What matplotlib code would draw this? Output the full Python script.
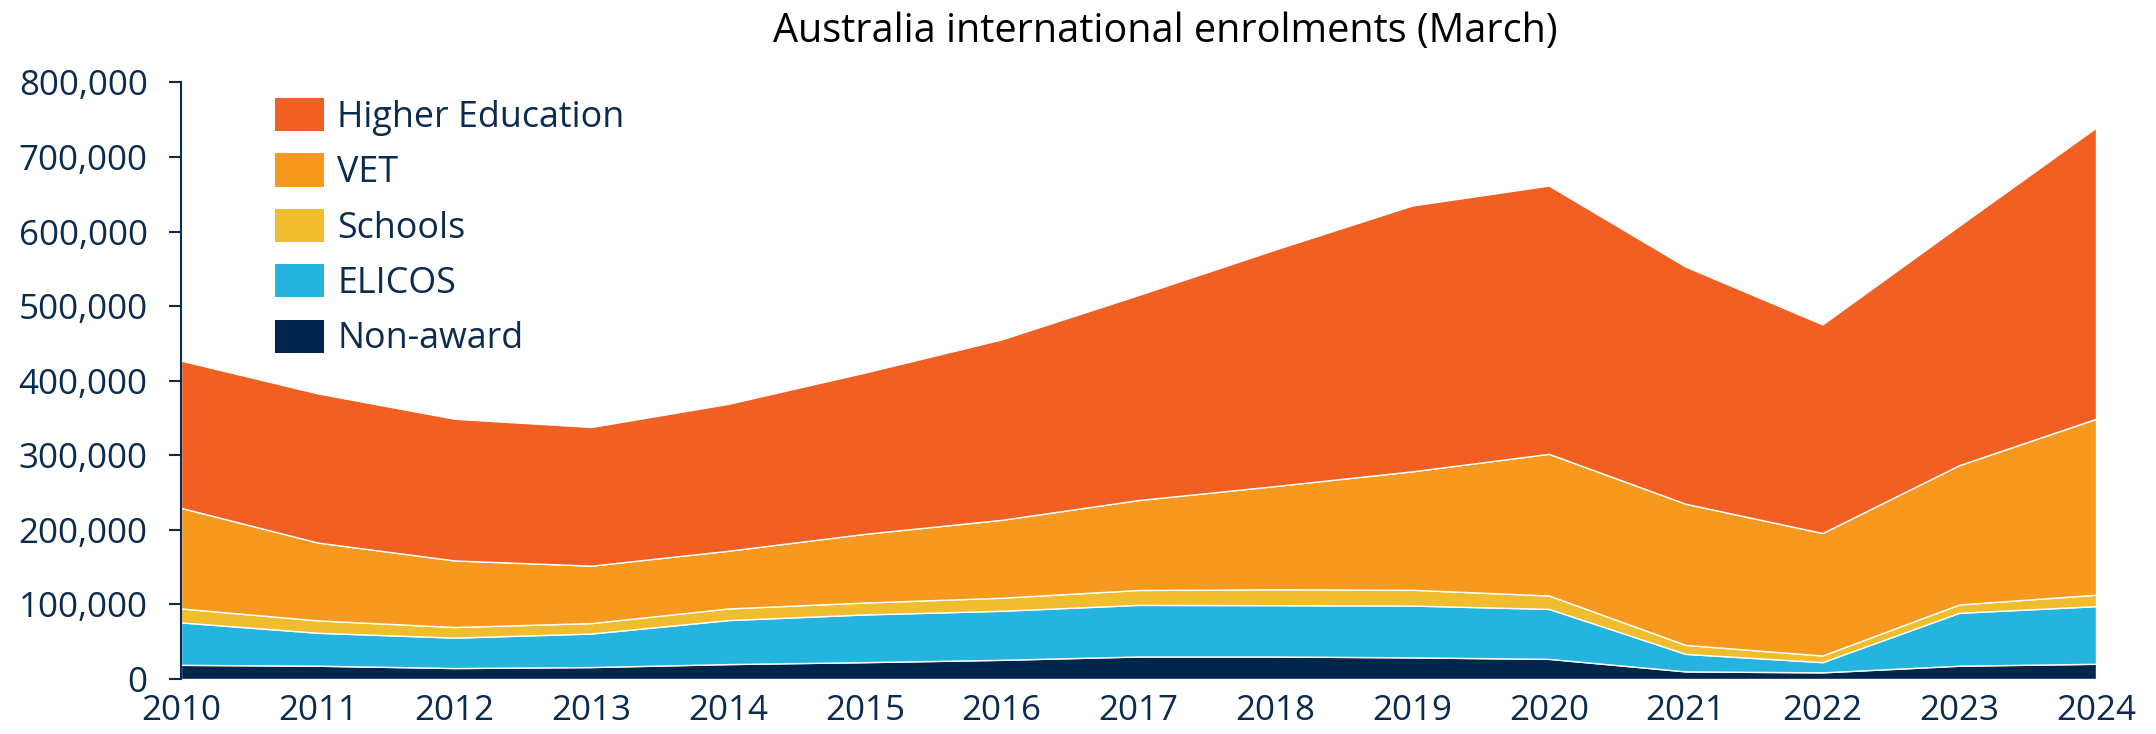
import matplotlib
matplotlib.use("Agg")
import matplotlib.pyplot as plt
from matplotlib.ticker import FuncFormatter, MultipleLocator
from matplotlib.patches import Patch

plt.rcParams['font.family'] = ['Open Sans', 'DejaVu Sans']

years = list(range(2010, 2025))
non_award = [19000, 17800, 14700, 16000, 20000, 22600, 25700, 30200, 30200, 29000, 27000, 10200, 8900, 17800, 20400]
elicos = [56900, 44200, 40800, 45000, 59000, 64000, 65800, 69200, 68800, 69500, 67000, 23500, 13700, 71000, 77300]
schools = [18700, 16600, 14200, 14000, 15600, 16000, 17500, 20000, 21300, 21200, 18000, 12000, 8900, 11200, 15300]
vet = [134900, 104400, 89300, 77000, 77400, 92100, 104500, 120600, 138500, 158800, 190000, 189300, 164300, 186800, 236000]
higher_ed = [197500, 200000, 190000, 186000, 197000, 216300, 242000, 275000, 317200, 356500, 359800, 318000, 279800, 321200, 390500]

series_names = ["Non-award", "ELICOS", "Schools", "VET", "Higher Education"]
colors = ["#00264D", "#25B4E0", "#F0BD2E", "#F7981F", "#F15F22"]
title = "Australia international enrolments (March)"
navy = "#0B2B4F"

W, H = 2156, 734
fig = plt.figure(figsize=(W / 100, H / 100), dpi=100)
left, right, bottom, top = 181, 2096, 679, 82.5
ax = fig.add_axes([left / W, (H - bottom) / H, (right - left) / W, (bottom - top) / H])

ax.stackplot(years, non_award, elicos, schools, vet, higher_ed,
             colors=colors, edgecolor="white", linewidth=1.0)

ax.set_xlim(2010, 2024)
ax.set_ylim(0, 800000)
ax.yaxis.set_major_locator(MultipleLocator(100000))
ax.yaxis.set_major_formatter(FuncFormatter(lambda v, p: f"{int(v):,}"))
ax.set_xticks(years)
ax.set_xticklabels([str(y) for y in years])

for s in ["top", "right", "bottom"]:
    ax.spines[s].set_visible(False)
ax.spines["left"].set_color(navy)
ax.spines["left"].set_linewidth(1.5)

ax.tick_params(axis="y", length=9, width=1.5, color=navy, pad=15, labelsize=25.2, labelcolor=navy)
ax.tick_params(axis="x", length=0, pad=11, labelsize=25.2, labelcolor=navy)

handles = [Patch(facecolor=c, edgecolor="none") for c in colors][::-1]
labels = series_names[::-1]
leg = fig.legend(handles, labels, loc="upper left",
                 bbox_to_anchor=(275 / W, (H - 98) / H), bbox_transform=fig.transFigure,
                 frameon=False, fontsize=25.8, handlelength=1.38, handleheight=1.05,
                 labelspacing=0.49, handletextpad=0.36, borderpad=0, borderaxespad=0)
for t in leg.get_texts():
    t.set_color(navy)

fig.text(1165 / W, (H - 42) / H, title, ha="center", va="baseline", fontsize=28.5, color="black")

fig.savefig("out.png", dpi=100)
